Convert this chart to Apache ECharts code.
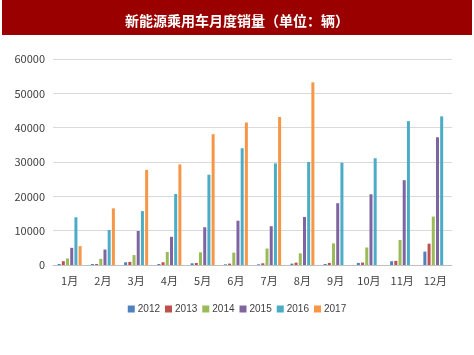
<!DOCTYPE html>
<html>
<head>
<meta charset="utf-8">
<script src="https://cdn.jsdelivr.net/npm/echarts@6/dist/echarts.min.js"></script>
<style>
html,body{margin:0;padding:0;background:#fff;}
#bar{position:absolute;left:2px;top:0;width:470px;height:35px;background:#9a0000;}
#chart{position:absolute;left:0;top:0;width:474px;height:355px;}
</style>
</head>
<body>
<div id="bar"></div>
<div id="chart"></div>
<script>
var title = '新能源乘用车月度销量（单位：辆）';
var categories = ['1月','2月','3月','4月','5月','6月','7月','8月','9月','10月','11月','12月'];
var seriesNames = ['2012','2013','2014','2015','2016','2017'];
var v2012 = [300, 300, 800, 300, 500, 200, 200, 400, 300, 600, 1100, 3900];
var v2013 = [1100, 300, 900, 800, 600, 400, 500, 700, 600, 700, 1200, 6200];
var v2014 = [1900, 1800, 2900, 3800, 3700, 3600, 4800, 3400, 6300, 5100, 7300, 14100];
var v2015 = [5000, 4500, 9900, 8200, 11000, 12900, 11300, 14000, 18000, 20600, 24700, 37200];
var v2016 = [13900, 10200, 15700, 20700, 26300, 34000, 29600, 30000, 29800, 31100, 41900, 43300];
var v2017 = [5500, 16500, 27700, 29300, 38100, 41500, 43100, 53200, null, null, null, null];
var yTicks = [0, 10000, 20000, 30000, 40000, 50000, 60000];
var colors = ['#4f81bd','#c0504d','#9bbb59','#8064a2','#4bacc6','#f79646'];
var values = [v2012, v2013, v2014, v2015, v2016, v2017];

var chart = echarts.init(document.getElementById('chart'), null, {renderer:'canvas'});
chart.setOption({
  animation: false,
  color: colors,
  title: {
    text: title, left: 'center', top: 9,
    textStyle: {color:'#ffffff', fontSize:14, fontWeight:'bold', fontFamily:'Noto Sans CJK SC'}
  },
  grid: {left: 53, right: 22, top: 59, bottom: 90, containLabel: false},
  legend: {
    data: seriesNames, bottom: 36, left: 'center',
    itemWidth: 7, itemHeight: 7, itemGap: 5,
    icon: 'rect',
    textStyle: {fontSize: 10, color:'#404040', fontFamily:'Liberation Sans', padding:[0,0,0,-2]}
  },
  xAxis: {
    type: 'category', data: categories,
    axisLine: {lineStyle: {color:'#bfbfbf'}},
    axisTick: {show:false},
    axisLabel: {fontSize: 11, color:'#404040', margin: 10, fontFamily:'Noto Sans CJK SC'}
  },
  yAxis: {
    type: 'value', min: yTicks[0], max: yTicks[yTicks.length-1], interval: 10000,
    axisLine: {show:false}, axisTick: {show:false},
    axisLabel: {fontSize: 11, color:'#404040', margin: 8, fontFamily:'Noto Sans CJK SC',
      formatter: function(v){ return String(v); }},
    splitLine: {lineStyle: {color:'#d9d9d9'}}
  },
  series: seriesNames.map(function(n,i){
    return {name:n, type:'bar', data: values[i], barWidth: 3, barGap: '40%'};
  })
});
</script>
</body>
</html>
